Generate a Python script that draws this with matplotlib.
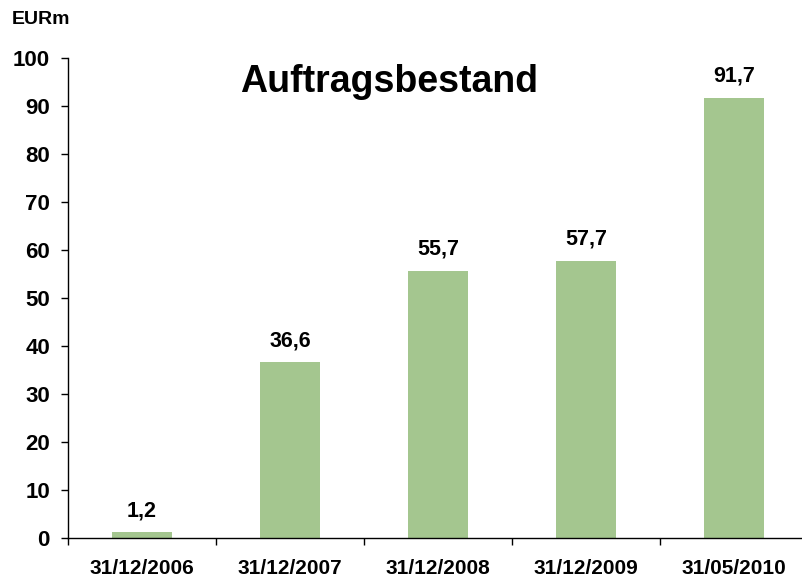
import numpy as np
import matplotlib
matplotlib.use("Agg")
import matplotlib.pyplot as plt

plt.rcParams['font.family'] = ['Liberation Sans', 'DejaVu Sans']
plt.rcParams['font.weight'] = 'bold'

# data
dates = ["31/12/2006", "31/12/2007", "31/12/2008", "31/12/2009", "31/05/2010"]
backlog = [1.2, 36.6, 55.7, 57.7, 91.7]
labels = ["1,2", "36,6", "55,7", "57,7", "91,7"]

fig = plt.figure(figsize=(8.02, 5.78), dpi=100)
ax = fig.add_axes([68 / 802, 1 - 538 / 578, 740 / 802, 480 / 578])

x = np.arange(len(dates))
bars = ax.bar(x, backlog, width=0.41, color="#A4C68F")

for xi, v, lab in zip(x, backlog, labels):
    ax.annotate(lab, (xi, v), xytext=(0, 8), textcoords="offset points",
                ha="center", va="bottom", fontsize=15.5, fontweight="bold")

ax.set_xlim(-0.5, len(dates) - 0.5)
ax.set_ylim(0, 100)
ax.set_yticks(np.arange(0, 101, 10))
ax.tick_params(axis="y", labelsize=16, length=5, width=1, pad=8)

# category labels centred, tick marks at the boundaries
ax.set_xticks(x)
ax.set_xticklabels(dates, fontsize=15, fontweight="bold")
ax.tick_params(axis="x", which="major", length=0, pad=15)
ax.set_xticks(np.arange(-0.5, len(dates), 1), minor=True)
ax.tick_params(axis="x", which="minor", length=5, width=1, direction="out")

for side in ["top", "right"]:
    ax.spines[side].set_visible(False)
for side in ["left", "bottom"]:
    ax.spines[side].set_linewidth(1)

fig.text(12 / 802, 1 - 20 / 578, "EURm", fontsize=14, fontweight="bold",
         ha="left", va="center")
fig.text(389 / 802, 1 - 82 / 578, "Auftragsbestand", fontsize=27,
         fontweight="bold", ha="center", va="center")

fig.savefig("out.png", dpi=100)
